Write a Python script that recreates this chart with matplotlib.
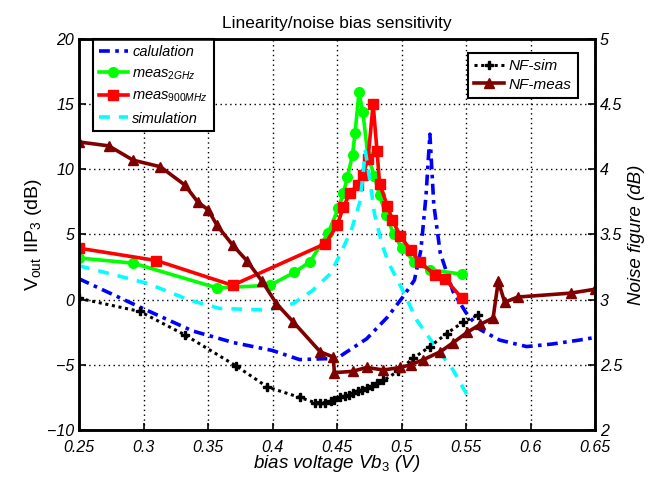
import matplotlib
matplotlib.use("Agg")
import matplotlib.pyplot as plt

plt.rcParams["font.family"] = ["Liberation Sans", "DejaVu Sans"]
plt.rcParams["mathtext.fontset"] = "custom"
plt.rcParams["mathtext.rm"] = "Liberation Sans"
plt.rcParams["mathtext.it"] = "Liberation Sans:italic"

# left axis: Vout IIP3 (dB)
calc_x = [0.25, 0.30, 0.338, 0.37, 0.40, 0.421, 0.45, 0.473, 0.489, 0.501, 0.51, 0.515,
          0.519, 0.522, 0.525, 0.53, 0.54, 0.55, 0.561, 0.576, 0.597, 0.617, 0.638, 0.65]
calc_y = [1.6, -0.7, -2.4, -3.3, -3.9, -4.6, -4.5, -3.0, -1.35, 0.2, 1.5, 3.8,
          8.0, 12.7, 7.3, 3.6, 0.6, -1.0, -2.3, -3.1, -3.6, -3.4, -3.1, -2.9]

sim_x = [0.25, 0.303, 0.336, 0.359, 0.396, 0.416, 0.431, 0.445, 0.452, 0.461, 0.468, 0.472,
         0.476, 0.479, 0.485, 0.49, 0.50, 0.512, 0.527, 0.54, 0.553]
sim_y = [2.6, 1.25, -0.05, -0.67, -0.8, -0.3, 0.7, 2.0, 3.4, 5.3, 7.6, 11.4,
         8.8, 6.6, 4.2, 2.8, 0.9, -1.6, -3.7, -5.4, -7.7]

g2_x = [0.25, 0.292, 0.357, 0.398, 0.417, 0.429, 0.443, 0.451, 0.455, 0.458, 0.462, 0.464,
        0.467, 0.470, 0.474, 0.479, 0.483, 0.488, 0.494, 0.500, 0.510, 0.522, 0.547]
g2_y = [3.2, 2.8, 0.9, 1.1, 2.1, 2.9, 5.1, 7.0, 8.2, 9.4, 11.1, 12.8,
        15.9, 14.4, 11.0, 9.5, 8.0, 6.5, 5.0, 4.0, 2.9, 2.3, 1.95]

m900_x = [0.25, 0.310, 0.369, 0.441, 0.450, 0.455, 0.460, 0.466, 0.470, 0.474, 0.478,
          0.481, 0.483, 0.489, 0.493, 0.499, 0.507, 0.514, 0.526, 0.534, 0.547]
m900_y = [3.95, 3.0, 1.1, 4.3, 5.7, 7.1, 8.2, 8.8, 9.6, 10.8, 15.0,
          11.4, 8.9, 7.2, 6.1, 4.9, 3.8, 2.9, 1.9, 1.56, 0.1]

# right axis: noise figure (dB)
nfsim_x = [0.25, 0.297, 0.332, 0.372, 0.396, 0.421, 0.433, 0.437, 0.441, 0.445, 0.448, 0.452,
           0.456, 0.459, 0.462, 0.466, 0.469, 0.473, 0.477, 0.481, 0.486, 0.497, 0.509,
           0.522, 0.535, 0.548, 0.559]
nfsim_y = [3.01, 2.91, 2.73, 2.49, 2.33, 2.25, 2.21, 2.21, 2.21, 2.22, 2.23, 2.25,
           2.26, 2.27, 2.28, 2.30, 2.31, 2.32, 2.34, 2.36, 2.38, 2.45, 2.55,
           2.64, 2.74, 2.83, 2.88]

nfmeas_x = [0.25, 0.273, 0.292, 0.313, 0.332, 0.342, 0.350, 0.357, 0.369, 0.380, 0.392,
            0.403, 0.416, 0.437, 0.447, 0.448, 0.462, 0.473, 0.486, 0.499, 0.507, 0.517,
            0.530, 0.540, 0.551, 0.561, 0.571, 0.575, 0.580, 0.590, 0.631, 0.65]
nfmeas_y = [4.21, 4.18, 4.07, 4.02, 3.88, 3.75, 3.69, 3.57, 3.42, 3.30, 3.14,
            2.97, 2.83, 2.60, 2.56, 2.44, 2.45, 2.48, 2.46, 2.48, 2.50, 2.54,
            2.60, 2.67, 2.75, 2.81, 2.86, 3.14, 2.98, 3.02, 3.05, 3.08]

x_ticks = [0.25, 0.3, 0.35, 0.4, 0.45, 0.5, 0.55, 0.6, 0.65]
left_ticks = [-10, -5, 0, 5, 10, 15, 20]
right_ticks = [2, 2.5, 3, 3.5, 4, 4.5, 5]

fig = plt.figure(figsize=(6.51, 4.82), dpi=100)
ax = fig.add_axes([0.1214, 0.1079, 0.7926, 0.8112])
ax2 = ax.twinx()

ax.plot(calc_x, calc_y, color="#0000ff", lw=2.6, ls=(0, (3, 1.5, 1, 1.5)), label="calulation")
ax.plot(g2_x, g2_y, color="#00ff00", lw=2.6, marker="o", ms=7, label=r"meas$_{\mathit{2GHz}}$")
ax.plot(m900_x, m900_y, color="#ff0000", lw=2.6, marker="s", ms=7, label=r"meas$_{\mathit{900MHz}}$")
ax.plot(sim_x, sim_y, color="#00ffff", lw=2.6, ls=(0, (3, 2.5)), label="simulation")

ax2.plot(nfsim_x, nfsim_y, color="black", lw=2.2, ls=(0, (1, 1.2)), marker="P", ms=6, label="NF-sim")
ax2.plot(nfmeas_x, nfmeas_y, color="#800000", lw=2.6, marker="^", ms=7, label="NF-meas")

ax.set_xlim(0.25, 0.65)
ax.set_ylim(-10, 20)
ax2.set_ylim(2, 5)
ax.set_xticks(x_ticks)
ax.set_xticklabels([f"{v:g}" for v in x_ticks])
ax.set_yticks(left_ticks)
ax2.set_yticks(right_ticks)
ax2.set_yticklabels([f"{v:g}" for v in right_ticks])

ax.grid(True, color="black", ls=(0, (1, 2.5)), lw=1.0)
for a in (ax, ax2):
    a.tick_params(direction="in", labelsize=11.5, length=5, width=1.2)
    for lbl in a.get_xticklabels() + a.get_yticklabels():
        lbl.set_fontstyle("italic")
    for s in a.spines.values():
        s.set_linewidth(1.8)
ax.tick_params(axis="x", pad=7)

ax.set_title("Linearity/noise bias sensitivity", fontsize=12.5, pad=8)
ax.set_xlabel(r"bias voltage Vb$_{\mathit{3}}$ (V)", fontsize=13.5, style="italic", labelpad=-1)
ax.set_ylabel(r"V$_{\mathrm{out}}$ IIP$_{\mathrm{3}}$ (dB)", fontsize=14, labelpad=2)
ax2.set_ylabel("Noise figure (dB)", fontsize=13.5, style="italic", labelpad=4)

leg1 = ax.legend(loc="upper left", bbox_to_anchor=(0.027, 1.0), borderaxespad=0,
                 fancybox=False, edgecolor="black", framealpha=1, handlelength=2.0,
                 handletextpad=0.3, labelspacing=0.5, borderpad=0.4,
                 prop={"style": "italic", "size": 10.5})
leg1.get_frame().set_linewidth(1.5)
leg2 = ax2.legend(loc="upper right", bbox_to_anchor=(0.967, 0.964), borderaxespad=0,
                  fancybox=False, edgecolor="black", framealpha=1, handlelength=2.0,
                  handletextpad=0.3, labelspacing=0.3,
                  prop={"style": "italic", "size": 11})
leg2.get_frame().set_linewidth(1.5)

fig.savefig("out.png", dpi=100)
